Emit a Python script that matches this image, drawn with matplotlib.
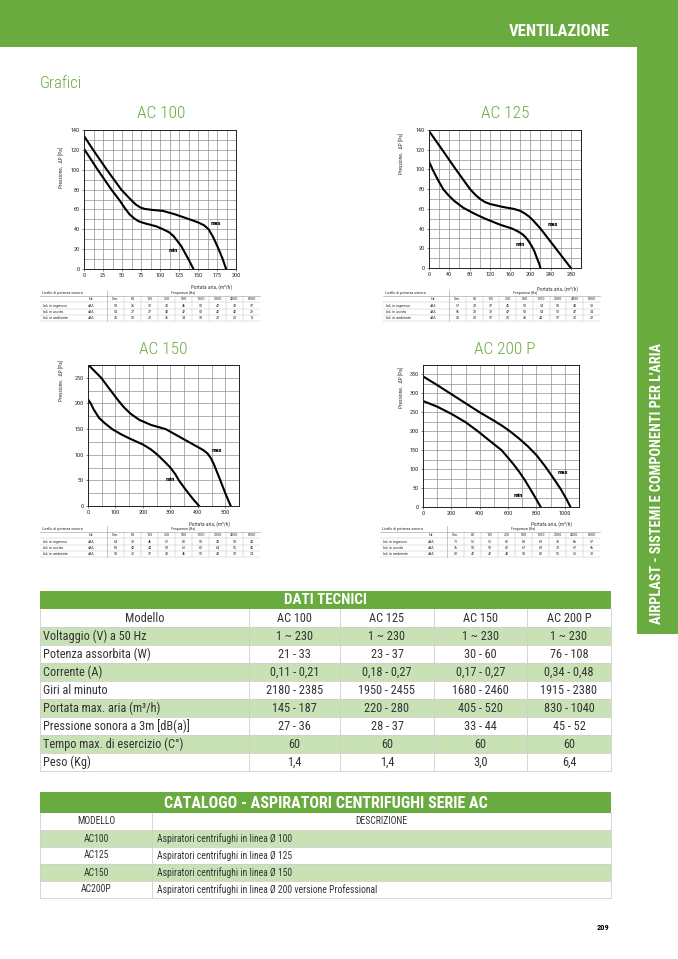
import matplotlib
matplotlib.use("Agg")
import matplotlib.pyplot as plt
from matplotlib.patches import Rectangle
from matplotlib import font_manager

# ---------------- DATA ----------------
models = ["AC 100", "AC 125", "AC 150", "AC 200 P"]

ac100_max_q = [0, 12, 30, 49, 60, 68, 74, 80, 90, 104, 120, 139, 150, 158, 164, 170, 176, 182, 187]
ac100_max_p = [134, 120, 100, 80, 71, 65, 62, 60.5, 59.5, 58.5, 55, 50, 47, 44, 40, 32, 22, 11, 0]
ac100_min_q = [0, 18, 36, 47, 54, 60, 66, 72, 80, 95, 104, 112, 118, 123, 128, 133, 138, 144]
ac100_min_p = [121, 100, 80, 69, 61, 55, 51, 48, 46, 43, 40, 37, 33, 28, 23, 16, 9, 0]

ac125_max_q = [0, 26, 53, 81, 92, 101, 110, 120, 145, 167, 180, 190, 198, 206, 213, 220, 250, 280]
ac125_max_p = [139, 120, 100, 80, 74, 70, 67, 65, 62, 60, 58, 55, 52, 48, 44, 40, 20, 0]
ac125_min_q = [0, 8, 18, 28, 38, 50, 68, 90, 111, 140, 164, 176, 185, 191, 197, 203, 208, 213, 217, 220]
ac125_min_p = [108, 99, 89, 80, 74, 68, 61, 55, 50, 44, 40, 37, 34, 31, 27, 22, 17, 10, 5, 0]

ac150_max_q = [0, 48, 90, 110, 130, 155, 187, 230, 283, 343, 400, 420, 436, 448, 458, 467, 482, 500, 520]
ac150_max_p = [276, 250, 220, 206, 193, 180, 168, 158, 150, 132, 115, 109, 102, 93, 82, 70, 50, 25, 0]
ac150_min_q = [0, 10, 20, 40, 60, 88, 120, 150, 200, 230, 253, 280, 300, 318, 331, 350, 370, 388, 405]
ac150_min_p = [208, 200, 189, 172, 162, 150, 140, 132, 120, 110, 100, 86, 75, 62, 50, 36, 22, 10, 0]

ac200_max_q = [0, 100, 200, 300, 400, 500, 560, 620, 680, 740, 800, 860, 920, 970, 1010, 1040]
ac200_max_p = [345, 322, 298, 274, 250, 228, 214, 198, 180, 160, 137, 108, 76, 48, 22, 0]
ac200_min_q = [0, 100, 200, 300, 387, 450, 510, 554, 600, 640, 680, 720, 752, 790, 830]
ac200_min_p = [280, 265, 246, 224, 200, 181, 163, 150, 130, 112, 92, 70, 50, 26, 0]

freq_cols = ["Gen.", "63", "125", "250", "500", "1000", "2000", "4000", "8000"]
sound_rows = ["L$_{wA}$ in ingresso", "L$_{wA}$ in uscita", "L$_{wA}$ in ambiente"]
ac100_sound = [[53, 26, 31, 41, 46, 50, 47, 41, 37],
               [54, 27, 27, 43, 47, 50, 42, 42, 29],
               [41, 23, 22, 26, 34, 39, 29, 29, 13]]
ac125_sound = [[57, 28, 37, 45, 52, 54, 53, 43, 33],
               [56, 28, 32, 47, 50, 54, 52, 47, 34],
               [41, 23, 37, 31, 36, 44, 37, 31, 22]]
ac150_sound = [[64, 38, 46, 57, 60, 58, 49, 53, 40],
               [68, 42, 44, 58, 61, 62, 64, 55, 45],
               [53, 35, 37, 41, 46, 52, 40, 39, 24]]
ac200_sound = [[71, 51, 51, 60, 68, 69, 76, 66, 57],
               [76, 53, 58, 62, 67, 69, 73, 67, 56],
               [62, 47, 47, 43, 53, 60, 55, 51, 38]]

tech_labels = ["Voltaggio (V) a 50 Hz", "Potenza assorbita (W)", "Corrente (A)",
               "Giri al minuto", "Portata max. aria (m³/h)",
               "Pressione sonora a 3m [dB(a)]", "Tempo max. di esercizio (C°)", "Peso (Kg)"]
tech_values = [["1 ~ 230", "1 ~ 230", "1 ~ 230", "1 ~ 230"],
               ["21 - 33", "23 - 37", "30 - 60", "76 - 108"],
               ["0,11 - 0,21", "0,18 - 0,27", "0,17 - 0,27", "0,34 - 0,48"],
               ["2180 - 2385", "1950 - 2455", "1680 - 2460", "1915 - 2380"],
               ["145 - 187", "220 - 280", "405 - 520", "830 - 1040"],
               ["27 - 36", "28 - 37", "33 - 44", "45 - 52"],
               ["60", "60", "60", "60"],
               ["1,4", "1,4", "3,0", "6,4"]]

cat_models = ["AC100", "AC125", "AC150", "AC200P"]
cat_desc = ["Aspiratori centrifughi in linea Ø 100",
            "Aspiratori centrifughi in linea Ø 125",
            "Aspiratori centrifughi in linea Ø 150",
            "Aspiratori centrifughi in linea Ø 200 versione Professional"]

# ---------------- STYLE ----------------
names = {f.name for f in font_manager.fontManager.ttflist}
COND = 'Roboto Condensed' if 'Roboto Condensed' in names else 'DejaVu Sans'
FAM = [COND, 'DejaVu Sans']
plt.rcParams['font.family'] = FAM
plt.rcParams['mathtext.fontset'] = 'custom'
plt.rcParams['mathtext.rm'] = COND
plt.rcParams['mathtext.it'] = COND

GREEN = '#6aab40'
LIGHT = '#c8e2b5'
TXT = '#333333'
GRID = '#8f8f8f'

W, H = 678, 959
fig = plt.figure(figsize=(W / 100, H / 100), dpi=100)
bg = fig.add_axes([0, 0, 1, 1])
bg.set_xlim(0, W)
bg.set_ylim(H, 0)
bg.axis('off')

# page bands
bg.add_patch(Rectangle((0, 0), W, 47, color=GREEN, lw=0))
bg.add_patch(Rectangle((637, 0), W - 637, 634, color=GREEN, lw=0))
bg.text(610, 32, "VENTILAZIONE", color='white', fontsize=12, fontweight='bold',
        ha='right', va='center')
bg.text(657, 483, "AIRPLAST - SISTEMI E COMPONENTI PER L'ARIA", color='white',
        fontsize=10.3, fontweight='bold', rotation=90, ha='center', va='center')
bg.text(40, 84, "Grafici", color=GREEN, fontsize=12, fontweight='light', ha='left', va='center')
bg.text(603, 927, "209", color='black', fontsize=6, fontweight='bold', ha='center', va='center')


def px_axes(x0, y0, x1, y1):
    return fig.add_axes([x0 / W, 1 - y1 / H, (x1 - x0) / W, (y1 - y0) / H])


charts = [
    dict(box=(84, 130, 236, 269), xlim=(0, 200), ylim=(0, 140), xt=25, xg=12.5, yt=20, yg=10,
         mx=(ac100_max_q, ac100_max_p), mn=(ac100_min_q, ac100_min_p),
         lmax=(174, 46), lmin=(118, 19), title=(161, 113), sound=ac100_sound,
         tab=(40, 260, 293), xlab=(212, 287), ylab=(62, 167)),
    dict(box=(429, 130, 581, 268), xlim=(0, 300), ylim=(0, 140), xt=40, xg=20, yt=20, yg=10,
         mx=(ac125_max_q, ac125_max_p), mn=(ac125_min_q, ac125_min_p),
         lmax=(244, 44), lmin=(181, 24), title=(505, 113), sound=ac125_sound,
         tab=(383, 600, 293), xlab=(558, 289), ylab=(402, 153)),
    dict(box=(88, 365, 239, 506), xlim=(0, 550), ylim=(0, 275), xt=100, xg=50, yt=50, yg=25,
         mx=(ac150_max_q, ac150_max_p), mn=(ac150_min_q, ac150_min_p),
         lmax=(470, 108), lmin=(299, 51), title=(163, 350), sound=ac150_sound,
         tab=(40, 260, 529), xlab=(210, 524), ylab=(62, 380)),
    dict(box=(423, 365, 579, 507), xlim=(0, 1100), ylim=(0, 375), xt=200, xg=100, yt=50, yg=25,
         mx=(ac200_max_q, ac200_max_p), mn=(ac200_min_q, ac200_min_p),
         lmax=(985, 92), lmin=(670, 30), title=(505, 350), sound=ac200_sound,
         tab=(380, 600, 529), xlab=(552, 524), ylab=(402, 387)),
]

for name, c in zip(models, charts):
    x0, y0, x1, y1 = c['box']
    ax = px_axes(x0, y0, x1, y1)
    ax.set_xlim(*c['xlim'])
    ax.set_ylim(*c['ylim'])
    ax.set_xticks(range(0, int(c['xlim'][1]) + 1, c['xt']))
    ax.set_yticks(range(0, int(c['ylim'][1]) + 1, c['yt']))
    xg = []
    v = 0.0
    while v <= c['xlim'][1] + 1e-6:
        xg.append(v)
        v += c['xg']
    yg = []
    v = 0.0
    while v <= c['ylim'][1] + 1e-6:
        yg.append(v)
        v += c['yg']
    for g in xg:
        ax.axvline(g, color=GRID, lw=0.5, zorder=0)
    for g in yg:
        ax.axhline(g, color=GRID, lw=0.5, zorder=0)
    ax.tick_params(labelsize=4.4, length=1.5, width=0.4, pad=1.5, colors='#222222')
    for s in ax.spines.values():
        s.set_linewidth(0.7)
        s.set_color('#222222')
    ax.plot(*c['mx'], color='black', lw=1.5, solid_capstyle='round', solid_joinstyle='round')
    ax.plot(*c['mn'], color='black', lw=1.5, solid_capstyle='round', solid_joinstyle='round')
    ax.text(*c['lmax'], "max", fontsize=4.5, fontweight='bold', ha='center', va='center')
    ax.text(*c['lmin'], "min", fontsize=4.5, fontweight='bold', ha='center', va='center')

    bg.text(c['title'][0], c['title'][1], name, color=GREEN, fontsize=12.5, fontweight='light',
            ha='center', va='center')
    bg.text(c['xlab'][0], c['xlab'][1], "Portata aria, (m³/h)", fontsize=3.8, ha='center', va='center',
            color='#333333')
    bg.text(c['ylab'][0], c['ylab'][1], "Pressione,   ΔP [Pa]", fontsize=3.8, rotation=90,
            ha='center', va='center', color='#333333')

    # small sound table
    tx0, tx1, ty = c['tab']
    rowh = 6.3
    div = tx0 + (tx1 - tx0) * 0.305
    colw = (tx1 - div) / len(freq_cols)
    fs = 3.0
    bg.text(tx0 + 2, ty, "Livello di potenza sonora", fontsize=fs, va='center', color='#333333')
    bg.text(div + colw * 4.5, ty, "Frequenza [Hz]", fontsize=fs, va='center', ha='center', color='#333333')
    bg.plot([tx0, tx1], [ty + 3.2, ty + 3.2], color='#999999', lw=0.4)
    bg.plot([div, div], [ty - 3, ty + 3.2 + rowh * 4], color='#999999', lw=0.4)
    hz_x = tx0 + (div - tx0) * 0.76
    bg.text(hz_x, ty + rowh, "Hz", fontsize=fs, ha='center', va='center', color='#333333')
    for j, f in enumerate(freq_cols):
        bg.text(div + colw * (j + 0.5), ty + rowh, f, fontsize=fs, ha='center', va='center', color='#333333')
        if j > 0:
            bg.plot([div + colw * j] * 2, [ty + 3.2, ty + 3.2 + rowh * 4], color='#bbbbbb', lw=0.3)
    for i, (lab, vals) in enumerate(zip(sound_rows, c['sound'])):
        yy = ty + rowh * (i + 2)
        bg.plot([tx0, tx1], [yy - rowh / 2, yy - rowh / 2], color='#bbbbbb', lw=0.3)
        bg.text(tx0 + 2, yy, lab, fontsize=fs, va='center', color='#333333')
        bg.text(hz_x, yy, "dBA", fontsize=fs, ha='center', va='center', color='#333333')
        for j, val in enumerate(vals):
            bg.text(div + colw * (j + 0.5), yy, str(val), fontsize=fs, ha='center', va='center', color='#333333')
    bg.plot([tx0, tx1], [ty + rowh * 4.5, ty + rowh * 4.5], color='#bbbbbb', lw=0.3)

# ---------------- DATI TECNICI table ----------------
T_L, T_R = 40, 611
col_edges = [40, 249, 340, 434, 527, 611]
hdr_top, hdr_bot = 591, 609
row_h = 18.0
bg.add_patch(Rectangle((T_L, hdr_top), T_R - T_L, hdr_bot - hdr_top, color=GREEN, lw=0))
bg.text((T_L + T_R) / 2, (hdr_top + hdr_bot) / 2 + 0.5, "DATI TECNICI", color='white',
        fontsize=10.8, fontweight='bold', ha='center', va='center')
rows = [["Modello"] + models] + [[lab] + vals for lab, vals in zip(tech_labels, tech_values)]
for i, r in enumerate(rows):
    top = hdr_bot + i * row_h
    if i % 2 == 1:
        bg.add_patch(Rectangle((T_L, top), T_R - T_L, row_h, color=LIGHT, lw=0))
    bg.plot([T_L, T_R], [top + row_h, top + row_h], color='#cfcfcf', lw=0.6)
    for j, cell in enumerate(r):
        if j == 0 and i > 0:
            bg.text(T_L + 3, top + row_h / 2, cell, fontsize=8.8, color=TXT, ha='left', va='center')
        else:
            cx = (col_edges[j] + col_edges[j + 1]) / 2
            bg.text(cx, top + row_h / 2, cell, fontsize=8.8, color=TXT, ha='center', va='center')
t_bot = hdr_bot + len(rows) * row_h
for x in col_edges:
    bg.plot([x, x], [hdr_bot, t_bot], color='#cfcfcf', lw=0.6)

# ---------------- CATALOGO table ----------------
c_top, c_hdr_bot = 792, 813
c_row_h = 17.0
c_div = 152
bg.add_patch(Rectangle((T_L, c_top), T_R - T_L, c_hdr_bot - c_top, color=GREEN, lw=0))
bg.text((T_L + T_R) / 2, (c_top + c_hdr_bot) / 2 + 0.5, "CATALOGO - ASPIRATORI CENTRIFUGHI SERIE AC",
        color='white', fontsize=11.5, fontweight='bold', ha='center', va='center')
c_rows = [["MODELLO", "DESCRIZIONE"]] + [[m, d] for m, d in zip(cat_models, cat_desc)]
for i, (m, d) in enumerate(c_rows):
    top = c_hdr_bot + i * c_row_h
    if i % 2 == 1:
        bg.add_patch(Rectangle((T_L, top), T_R - T_L, c_row_h, color=LIGHT, lw=0))
    bg.plot([T_L, T_R], [top + c_row_h, top + c_row_h], color='#cfcfcf', lw=0.6)
    bg.text((T_L + c_div) / 2, top + c_row_h / 2, m, fontsize=6.9, color=TXT, ha='center', va='center')
    if i == 0:
        bg.text((c_div + T_R) / 2, top + c_row_h / 2, d, fontsize=6.9, color=TXT, ha='center', va='center')
    else:
        bg.text(c_div + 5, top + c_row_h / 2, d, fontsize=6.9, color=TXT, ha='left', va='center')
c_bot = c_hdr_bot + len(c_rows) * c_row_h
for x in [T_L, c_div, T_R]:
    bg.plot([x, x], [c_hdr_bot, c_bot], color='#cfcfcf', lw=0.6)

fig.savefig("out.png", dpi=100)
